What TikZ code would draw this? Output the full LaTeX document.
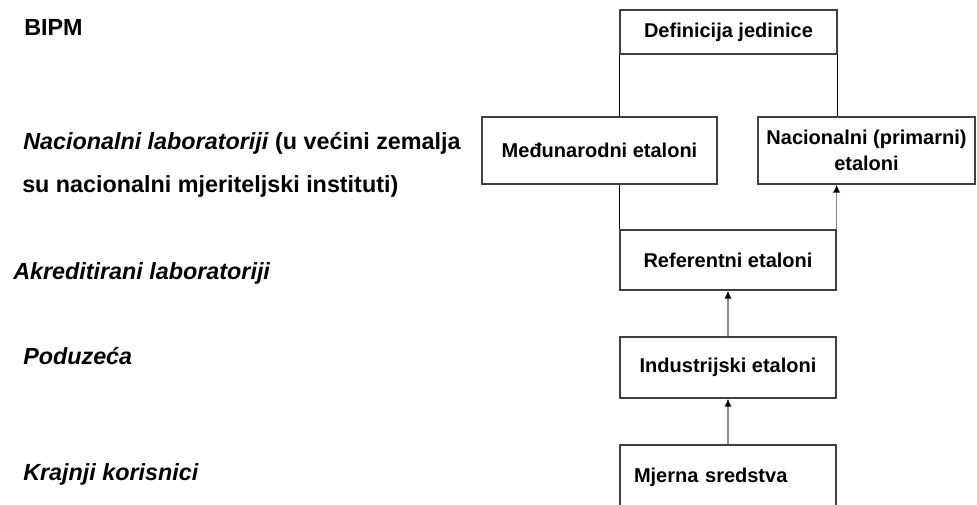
\documentclass[tikz,border=0pt]{standalone}
\usepackage{fontspec}
\setmainfont{Liberation Sans}
\usetikzlibrary{arrows.meta}
\tikzstyle{box} = [draw=black!75, line width=0.9pt, rectangle, inner sep=0pt,
  font=\fontsize{15}{19}\selectfont\bfseries, align=center]
\tikzstyle{line} = [draw, line width=0.9pt]
\tikzstyle{arrow} = [draw=black!45, line width=1.2pt, -{Latex[length=6pt,width=5.5pt,black]}]

\begin{document}
\begin{tikzpicture}[x=0.75pt,y=-0.75pt]
\tikzstyle{lvl} = [anchor=base west, inner sep=0pt, font=\fontsize{17.5}{21}\selectfont\bfseries]
\useasboundingbox (0,0) rectangle (977,505);
% boxes on the right
\node[box, minimum width=217*0.75pt, minimum height=44*0.75pt] (def) at (728.5,32) {Definicija jedinice};
\node[box, minimum width=235*0.75pt, minimum height=67*0.75pt] (med) at (599.5,150.5) {Me\dj unarodni etaloni};
\node[box, minimum width=217*0.75pt, minimum height=67*0.75pt] (nac) at (866.5,150.5) {Nacionalni (primarni)\\etaloni};
\node[box, minimum width=216*0.75pt, minimum height=60*0.75pt] (ref) at (728,260) {Referentni etaloni};
\node[box, minimum width=216*0.75pt, minimum height=61*0.75pt] (ind) at (728,367.5) {Industrijski etaloni};
\node[box, minimum width=216*0.75pt, minimum height=64*0.75pt, text width=188*0.75pt,
  align=left, inner xsep=14*0.75pt] (mje) at (728,477) {Mjerna sredstva};
% levels on the left
\node[lvl] (bipm) at (24,36) {BIPM};
\node[lvl] (nlab) at (23,150) {\textit{Nacionalni laboratoriji} (u ve\'cini zemalja};
\node[lvl] (nlab2) at (22,193) {su nacionalni mjeriteljski instituti)};
\node[lvl] (akr) at (13,280) {\textit{Akreditirani laboratoriji}};
\node[lvl] (pod) at (23,365) {\textit{Poduze\'ca}};
\node[lvl] (kor) at (23,480) {\textit{Krajnji korisnici}};
% connectors
\path [line] (def.south west) -- (def.south west |- med.north);
\path [line] (def.south east) -- (def.south east |- nac.north);
\path [line] (med.south -| ref.west) -- (ref.north west);
\path [arrow] (ref.north east) -- (ref.north east |- nac.south);
\path [arrow] (ind.north) -- (ref.south);
\path [arrow] (mje.north) -- (ind.south);
\end{tikzpicture}
\end{document}
